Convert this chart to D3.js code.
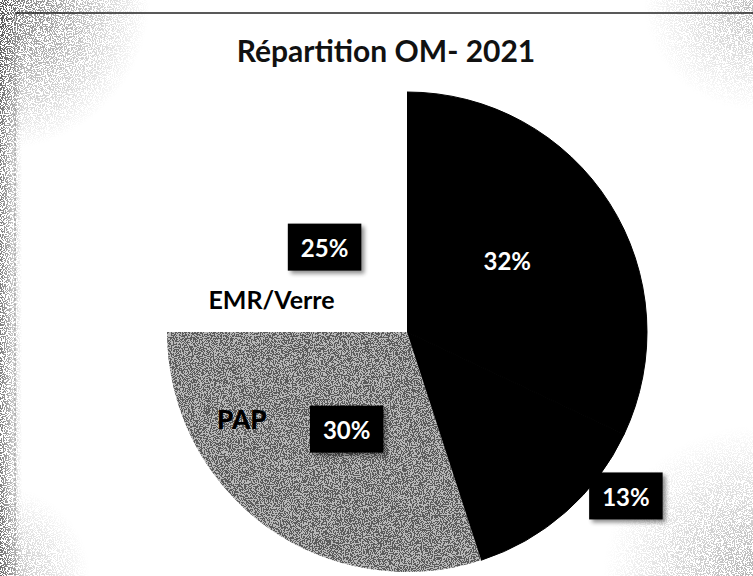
<!DOCTYPE html>
<html>
<head>
<meta charset="utf-8">
<script src="https://cdn.jsdelivr.net/npm/d3@7"></script>
<style>
  html, body { margin: 0; padding: 0; background: #fff; }
  svg { display: block; }
  text { font-family: Lato, "Open Sans", sans-serif; font-weight: bold; }
</style>
</head>
<body>
<div id="chart"></div>
<script>
// data
var title = "Répartition OM- 2021";
var values = [32, 13, 30, 25];
var categories = ["", "", "PAP", "EMR/Verre"];
var valueLabels = ["32%", "13%", "30%", "25%"];

var W = 753, H = 576;
var cx = 407, cy = 332, R = 240;
var sliceFills = ["#000", "#000", "#b8b8b8", "#fff"];
// label placement: [angle in degrees from 12 o'clock, radius as fraction of R]
var valuePos = [[55, 0.51], [127, 1.142], [211.6, 0.48], [315.5, 0.49]];
var valueBoxed = [false, true, true, true];
var catPos = [null, null, [242, 0.78], [283.3, 0.58]];

var svg = d3.select("#chart").append("svg")
	.attr("width", W)
	.attr("height", H);

var defs = svg.append("defs");

// scanner grain
var speck = defs.append("filter").attr("id", "speck")
	.attr("x", 0).attr("y", 0).attr("width", 1).attr("height", 1);
speck.append("feTurbulence").attr("type", "fractalNoise")
	.attr("baseFrequency", 0.9).attr("numOctaves", 2).attr("seed", 4).attr("result", "t");
speck.append("feColorMatrix").attr("in", "t").attr("type", "matrix")
	.attr("values", "0 0 0 0 0  0 0 0 0 0  0 0 0 0 0  -2.2 0 0 0 1.6").attr("result", "a");
speck.append("feComponentTransfer").attr("in", "a").attr("result", "b")
	.append("feFuncA").attr("type", "discrete").attr("tableValues", "0 1");
speck.append("feComposite").attr("in", "SourceGraphic").attr("in2", "b").attr("operator", "in");

var shadow = defs.append("filter").attr("id", "boxShadow")
	.attr("x", -0.2).attr("y", -0.2).attr("width", 1.5).attr("height", 1.5);
shadow.append("feGaussianBlur").attr("in", "SourceAlpha").attr("stdDeviation", 2).attr("result", "bl");
shadow.append("feOffset").attr("in", "bl").attr("dx", 3).attr("dy", 3).attr("result", "off");
shadow.append("feComponentTransfer").attr("in", "off").attr("result", "sh")
	.append("feFuncA").attr("type", "linear").attr("slope", 0.45);
var merge = shadow.append("feMerge");
merge.append("feMergeNode").attr("in", "sh");
merge.append("feMergeNode").attr("in", "SourceGraphic");

// edge mask for the scanned background noise
var corners = [
	{id: "gTL", x: 0, y: 0, r: 150, a: 0.75},
	{id: "gTR", x: W, y: 0, r: 110, a: 0.35},
	{id: "gBR", x: W, y: H, r: 150, a: 0.4},
	{id: "gBL", x: 0, y: H, r: 90, a: 0.35}
];
corners.forEach(function(c){
	var g = defs.append("radialGradient").attr("id", c.id)
		.attr("gradientUnits", "userSpaceOnUse")
		.attr("cx", c.x).attr("cy", c.y).attr("r", c.r);
	g.append("stop").attr("offset", "0%").attr("stop-color", "#fff").attr("stop-opacity", c.a);
	g.append("stop").attr("offset", "100%").attr("stop-color", "#fff").attr("stop-opacity", 0);
});
var lg = defs.append("linearGradient").attr("id", "gL")
	.attr("x1", 0).attr("x2", 1).attr("y1", 0).attr("y2", 0);
lg.append("stop").attr("offset", "0%").attr("stop-color", "#fff").attr("stop-opacity", 0.7);
lg.append("stop").attr("offset", "100%").attr("stop-color", "#fff").attr("stop-opacity", 0);

var mask = defs.append("mask").attr("id", "edgeMask");
corners.forEach(function(c){
	mask.append("rect").attr("width", W).attr("height", H).attr("fill", "url(#" + c.id + ")");
});
mask.append("rect").attr("width", 22).attr("height", H).attr("fill", "url(#gL)");

svg.append("rect").attr("width", W).attr("height", H).attr("fill", "#fff");
svg.append("rect").attr("width", W).attr("height", H)
	.attr("fill", "#444")
	.attr("filter", "url(#speck)")
	.attr("mask", "url(#edgeMask)");

// frame edges from the scan
svg.append("line").attr("x1", 15).attr("x2", W).attr("y1", 13).attr("y2", 13)
	.style("stroke", "#222").style("stroke-width", "1.5px");
svg.append("line").attr("x1", 15).attr("x2", 15).attr("y1", 13).attr("y2", H)
	.style("stroke", "#888").style("stroke-width", "1px")
	.attr("stroke-dasharray", "3, 2");

// title
svg.append("text")
	.attr("x", 386)
	.attr("y", 62)
	.attr("text-anchor", "middle")
	.style("font-size", "30px")
	.style("fill", "#111")
	.text(title);

// pie
var pie = d3.pie().sort(null).startAngle(0).endAngle(2 * Math.PI);
var arc = d3.arc().innerRadius(0).outerRadius(R);
var arcs = pie(values);

var gPie = svg.append("g").attr("transform", "translate(" + cx + "," + cy + ")");

gPie.selectAll("path.slice")
	.data(arcs)
	.enter()
	.append("path")
	.attr("class", "slice")
	.attr("d", arc)
	.attr("fill", function(d, i){ return sliceFills[i]; })
	.style("stroke", function(d, i){ return sliceFills[i] == "#000" ? "#000" : "none"; })
	.style("stroke-width", "1px");

// grain on the grey slice
gPie.append("path")
	.attr("d", arc(arcs[2]))
	.attr("fill", "#000")
	.attr("opacity", 0.5)
	.attr("filter", "url(#speck)");

var toXY = function(p){
	return d3.pointRadial(p[0] * Math.PI / 180, p[1] * R);
};

// category labels
categories.forEach(function(name, i){
	if(!name || !catPos[i]) return;
	var pt = toXY(catPos[i]);
	gPie.append("text")
		.attr("x", pt[0])
		.attr("y", pt[1])
		.attr("dy", "0.36em")
		.attr("text-anchor", "middle")
		.style("font-size", i == 2 ? "26px" : "25px")
		.style("font-weight", i == 2 ? "900" : "bold")
		.style("fill", "#000")
		.text(name);
});

// value labels
valueLabels.forEach(function(lbl, i){
	var pt = toXY(valuePos[i]);
	var g = gPie.append("g").attr("transform", "translate(" + pt[0] + "," + pt[1] + ")");
	var box = g.append("rect").attr("fill", "#000");
	var t = g.append("text")
		.attr("x", 0)
		.attr("y", 0)
		.attr("dy", "0.36em")
		.attr("text-anchor", "middle")
		.style("font-size", "24px")
		.style("fill", "#fff")
		.text(lbl);
	if(valueBoxed[i]){
		var bb = t.node().getBBox();
		var padX = 13, padY = 11;
		box.attr("x", bb.x - padX)
			.attr("y", -bb.height / 2 - padY + 1)
			.attr("width", bb.width + 2 * padX)
			.attr("height", bb.height + 2 * padY - 4)
			.attr("filter", "url(#boxShadow)");
	}else{
		box.remove();
	}
});
</script>
</body>
</html>
